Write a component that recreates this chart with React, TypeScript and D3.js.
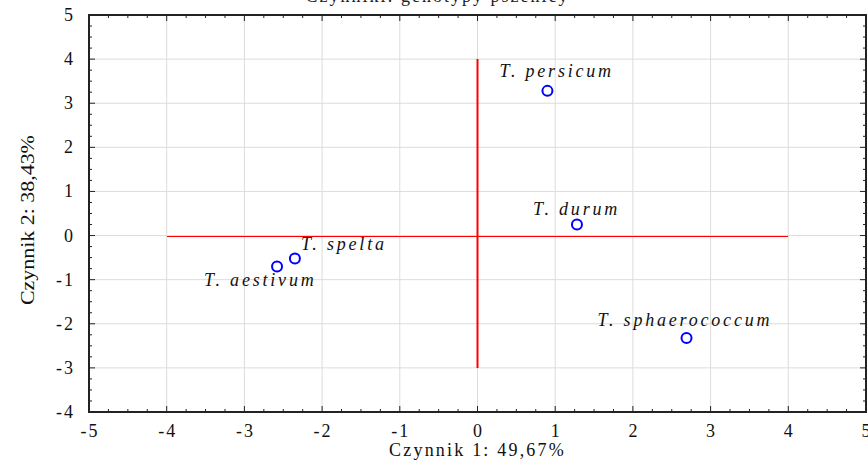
import React from "react";
import * as d3 from "d3";

const width = 868;
const height = 466;
const margin = { top: 15, right: 2, bottom: 54, left: 89 };

// scores of the genotypes on the first two factors
const names = ["T. persicum", "T. durum", "T. sphaerococcum", "T. spelta", "T. aestivum"];
const factor1 = [0.9, 1.28, 2.69, -2.35, -2.58];
const factor2 = [3.28, 0.25, -2.32, -0.52, -0.7];

const xTicks = [-5, -4, -3, -2, -1, 0, 1, 2, 3, 4, 5];
const yTicks = [5, 4, 3, 2, 1, 0, -1, -2, -3, -4];

const title = "Czynniki: genotypy pszenicy";
const xTitle = "Czynnik 1: 49,67%";
const yTitle = "Czynnik 2: 38,43%";

// label offsets in px, relative to each point
const labelOffsets = [
  [-48, -14],
  [-44, -10],
  [-89, -12],
  [6, -8],
  [-73, 20]
];

const font = "'Liberation Serif', 'Times New Roman', serif";

export default function App() {
  const x = d3
    .scaleLinear()
    .domain([-5, 5])
    .range([margin.left, width - margin.right]);
  const y = d3
    .scaleLinear()
    .domain([-4, 5])
    .range([height - margin.bottom, margin.top]);

  const x0 = x.range()[0];
  const x1 = x.range()[1];
  const y0 = y.range()[0];
  const y1 = y.range()[1];

  const xMinor = d3.range(-5, 5.001, 0.25);
  const yMinor = d3.range(-4, 5.001, 0.25);
  const fmt = (t: number) => (t < 0 ? "-" + Math.abs(t) : String(t));

  return (
    <svg
      width={width}
      height={height}
      style={{ position: "absolute", left: 0, top: 0, background: "#fff" }}
      fontFamily={font}
    >
      <text x={x(0) - 40} y={2} textAnchor="middle" fontSize={18} letterSpacing={2} fill="#222">
        {title}
      </text>

      {/* grid */}
      {xTicks.slice(1, -1).map(t => (
        <line key={"gx" + t} x1={x(t)} x2={x(t)} y1={y0} y2={y1} stroke="#dcdcdc" strokeWidth={1} />
      ))}
      {yTicks.slice(1, -1).map(t => (
        <line key={"gy" + t} x1={x0} x2={x1} y1={y(t)} y2={y(t)} stroke="#dcdcdc" strokeWidth={1} />
      ))}

      {/* red cross at the origin */}
      <line
        x1={x(-4)}
        x2={x(4)}
        y1={Math.round(y(0)) + 0.5}
        y2={Math.round(y(0)) + 0.5}
        stroke="#ff0000"
        strokeWidth={1}
        shapeRendering="crispEdges"
      />
      <line x1={x(0)} x2={x(0)} y1={y(-3)} y2={y(4)} stroke="#ff0000" strokeWidth={2} />

      {/* minor and major ticks */}
      {xMinor.map(t => {
        const len = Math.abs(t - Math.round(t)) < 1e-6 ? 6 : 3;
        return (
          <g key={"tx" + t}>
            <line x1={x(t)} x2={x(t)} y1={y0} y2={y0 - len} stroke="#222" />
            <line x1={x(t)} x2={x(t)} y1={y1} y2={y1 + len} stroke="#222" />
          </g>
        );
      })}
      {yMinor.map(t => {
        const len = Math.abs(t - Math.round(t)) < 1e-6 ? 6 : 3;
        return (
          <g key={"ty" + t}>
            <line x1={x0} x2={x0 + len} y1={y(t)} y2={y(t)} stroke="#222" />
            <line x1={x1} x2={x1 - len} y1={y(t)} y2={y(t)} stroke="#222" />
          </g>
        );
      })}

      {/* frame */}
      <rect x={x0} y={y1} width={x1 - x0} height={y0 - y1} fill="none" stroke="#222" strokeWidth={2} />

      {/* tick labels */}
      {xTicks.map(t => (
        <text key={"lx" + t} x={x(t) + 1} y={y0 + 25} textAnchor="middle" fontSize={18} letterSpacing={2} fill="#111">
          {fmt(t)}
        </text>
      ))}
      {yTicks.map(t => (
        <text key={"ly" + t} x={x0 - 14} y={y(t) + 6} textAnchor="end" fontSize={18} letterSpacing={2} fill="#111">
          {fmt(t)}
        </text>
      ))}

      {/* axis titles */}
      <text x={x(0)} y={height - 10} textAnchor="middle" fontSize={18} letterSpacing={2.2} fill="#111">
        {xTitle}
      </text>
      <text
        transform={`translate(34, ${y(0.35)}) rotate(-90)`}
        textAnchor="middle"
        fontSize={18}
        textLength={170}
        lengthAdjust="spacingAndGlyphs"
        fill="#111"
      >
        {yTitle}
      </text>

      {/* points and labels */}
      {names.map((n, i) => (
        <g key={n}>
          <circle cx={x(factor1[i])} cy={y(factor2[i])} r={5} fill="none" stroke="#0000ff" strokeWidth={2} />
          <text
            x={x(factor1[i]) + labelOffsets[i][0]}
            y={y(factor2[i]) + labelOffsets[i][1]}
            fontSize={18}
            letterSpacing={2.8}
            fontStyle="italic"
            fill="#111"
          >
            {n}
          </text>
        </g>
      ))}
    </svg>
  );
}
